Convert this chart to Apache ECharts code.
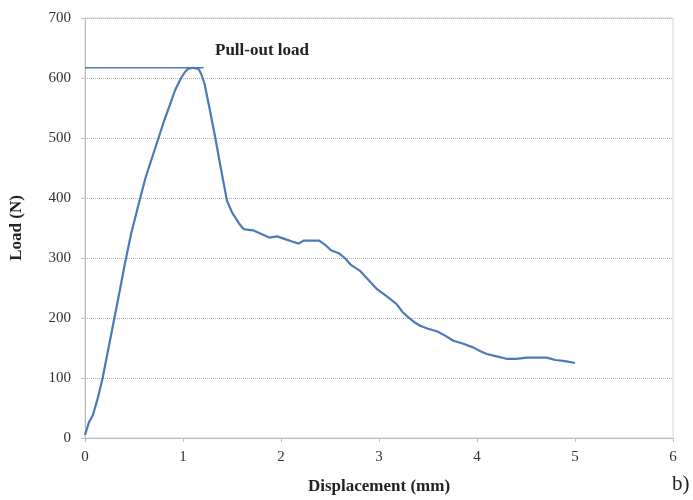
<!DOCTYPE html>
<html>
<head>
<meta charset="utf-8">
<script src="https://cdn.jsdelivr.net/npm/echarts@6/dist/echarts.min.js"></script>
<style>
  html, body { margin: 0; padding: 0; background: #fff; }
  #chart { width: 693px; height: 500px; }
</style>
</head>
<body>
<div id="chart"></div>
<script>
// 位移 (mm)
var displacement = [0, 0.04, 0.08, 0.13, 0.18, 0.24, 0.30, 0.36, 0.41, 0.47, 0.52, 0.56, 0.62, 0.69, 0.75, 0.81, 0.87, 0.92, 0.98, 1.02, 1.05, 1.10, 1.16, 1.19, 1.22, 1.27, 1.33, 1.38, 1.42, 1.45, 1.50, 1.57, 1.62, 1.67, 1.72, 1.80, 1.88, 1.96, 2.05, 2.12, 2.18, 2.23, 2.30, 2.39, 2.45, 2.51, 2.59, 2.65, 2.71, 2.81, 2.90, 2.98, 3.08, 3.18, 3.24, 3.30, 3.36, 3.42, 3.50, 3.59, 3.67, 3.76, 3.86, 3.96, 4.03, 4.10, 4.20, 4.30, 4.40, 4.51, 4.60, 4.71, 4.80, 4.90, 5.00];
// 荷载 (N)
var load = [5, 26, 38, 66, 100, 150, 200, 250, 293, 340, 372, 398, 435, 470, 500, 530, 557, 580, 600, 610, 615, 617, 615, 605, 590, 550, 500, 455, 420, 395, 376, 358, 348, 347, 346, 340, 334, 336, 331, 327, 324, 329, 329, 329, 322, 313, 308, 300, 289, 278, 262, 248, 236, 223, 210, 201, 193, 187, 182, 178, 171, 162, 157, 151, 145, 140, 136, 132, 132, 134, 134, 134, 130, 128, 125];
// 拔出荷载水平线
var pullOutX = [0, 1.21];
var pullOutLoad = 617;

var serif = '"Liberation Serif", "DejaVu Serif", serif';
var lineColor = '#4a7ab8';

var curve = displacement.map(function (x, i) { return [x, load[i]]; });
var pullLine = pullOutX.map(function (x) { return [x, pullOutLoad]; });

var myChart = echarts.init(document.getElementById('chart'));
var option = {
  animation: false,
  grid: {
    left: 84, right: 20, top: 18, bottom: 61,
    show: true,
    borderColor: '#d4d4d4',
    borderWidth: 1
  },
  xAxis: {
    type: 'value',
    min: 0, max: 6, interval: 1,
    name: 'Displacement (mm)',
    nameLocation: 'middle',
    nameGap: 40,
    nameTextStyle: { fontFamily: serif, fontWeight: 'bold', fontSize: 17, color: '#222' },
    axisLine: { lineStyle: { color: '#bdbdbd' } },
    axisTick: { show: true, length: 4, lineStyle: { color: '#bdbdbd' } },
    axisLabel: { fontFamily: serif, fontSize: 15, color: '#333', margin: 12 },
    splitLine: { show: false }
  },
  yAxis: {
    type: 'value',
    min: 0, max: 700, interval: 100,
    name: 'Load (N)',
    nameLocation: 'middle',
    nameGap: 60,
    nameTextStyle: { fontFamily: serif, fontWeight: 'bold', fontSize: 17, color: '#222' },
    axisLine: { show: true, lineStyle: { color: '#bdbdbd' } },
    axisTick: { show: true, length: 4, lineStyle: { color: '#bdbdbd' } },
    axisLabel: { fontFamily: serif, fontSize: 15, color: '#333', margin: 14 },
    splitLine: { lineStyle: { color: '#b0b0b0', type: 'dotted' } }
  },
  graphic: [
    {
      type: 'text', left: 215, top: 42,
      style: { text: 'Pull-out load', fontFamily: serif, fontWeight: 'bold', fontSize: 17, fill: '#222' }
    },
    {
      type: 'text', left: 672, top: 474,
      style: { text: 'b)', fontFamily: serif, fontSize: 21, fill: '#222' }
    }
  ],
  series: [
    {
      name: 'Pull-out load',
      type: 'line',
      data: pullLine,
      symbol: 'none',
      lineStyle: { color: lineColor, width: 1.5 }
    },
    {
      name: 'Load',
      type: 'line',
      data: curve,
      symbol: 'none',
      lineStyle: { color: lineColor, width: 2.2 }
    }
  ]
};
myChart.setOption(option);
window.addEventListener('resize', function () {
  myChart.resize();
});
</script>
</body>
</html>
